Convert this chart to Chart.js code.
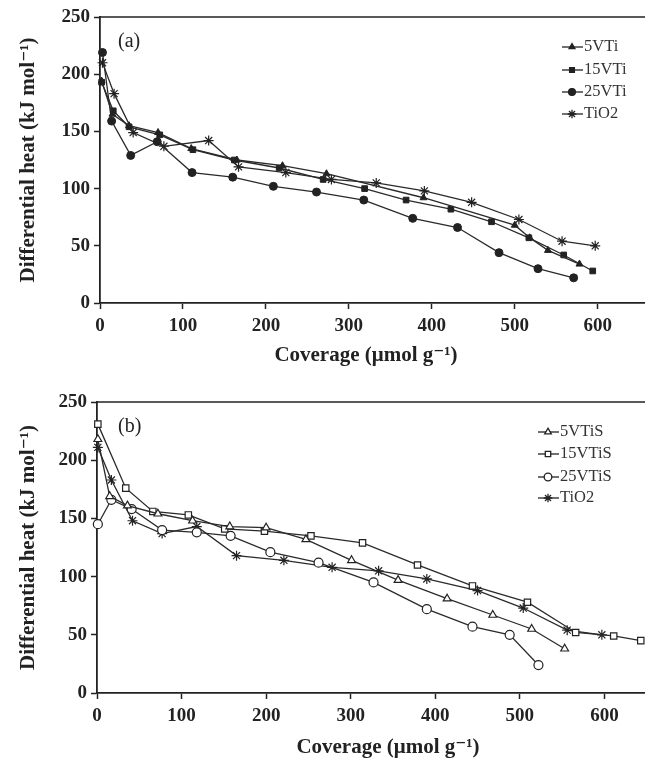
<!DOCTYPE html>
<html>
<head>
<meta charset="utf-8">
<script src="https://cdn.jsdelivr.net/npm/chart.js@4"></script>
<style>
  body { margin: 0; background: #fff; }
  #wrap { position: relative; width: 645px; height: 758px; overflow: hidden; }
  canvas { position: absolute; left: 0; }
</style>
</head>
<body>
<div id="wrap">
  <canvas id="chartA" width="645" height="370" style="top:0"></canvas>
  <canvas id="chartB" width="645" height="378" style="top:380px"></canvas>
</div>
<script>
// Panel (a) data
const a5VTiX  = [2, 15, 35, 70, 110, 165, 220, 273, 390, 500, 518, 540, 578];
const a5VTiY  = [194, 165, 155, 149, 135, 125, 120, 113, 92, 68, 57, 46, 34];
const a15VTiX = [2, 16, 35, 72, 112, 162, 216, 269, 319, 369, 423, 472, 517, 559, 594];
const a15VTiY = [193, 168, 154, 147, 134, 125, 118, 108, 100, 90, 82, 71, 57, 42, 28];
const a25VTiX = [3, 14, 37, 69, 111, 160, 209, 261, 318, 377, 431, 481, 528, 571];
const a25VTiY = [219, 159, 129, 141, 114, 110, 102, 97, 90, 74, 66, 44, 30, 22];
const aTiO2X  = [3, 17, 40, 77, 131, 167, 224, 279, 333, 391, 448, 505, 557, 597];
const aTiO2Y  = [210, 183, 149, 137, 142, 119, 114, 108, 105, 98, 88, 73, 54, 50];

// Panel (b) data
const b5VTiSX  = [1, 15, 36, 72, 113, 157, 200, 247, 301, 356, 414, 468, 514, 553];
const b5VTiSY  = [218, 169, 161, 154, 148, 143, 142, 132, 114, 97, 81, 67, 55, 38];
const b15VTiSX = [1, 34, 66, 108, 151, 198, 253, 314, 379, 444, 509, 566, 611, 643];
const b15VTiSY = [231, 176, 156, 153, 141, 139, 135, 129, 110, 92, 78, 52, 49, 45];
const b25VTiSX = [1, 17, 41, 77, 118, 158, 205, 262, 327, 390, 444, 488, 522];
const b25VTiSY = [145, 166, 158, 140, 138, 135, 121, 112, 95, 72, 57, 50, 24];
const bTiO2X   = [1, 17, 42, 77, 118, 165, 221, 278, 333, 390, 450, 504, 556, 597];
const bTiO2Y   = [211, 183, 148, 137, 143, 118, 114, 108, 105, 98, 88, 73, 54, 50];

const yTicks = [0, 50, 100, 150, 200, 250];
const xTicks = [0, 100, 200, 300, 400, 500, 600];

const SERIF = '"Liberation Serif", "DejaVu Serif", serif';
const INK = '#222';

function pts(xs, ys) {
  return xs.map((x, i) => ({ x: x, y: ys[i] }));
}

function series(label, xs, ys, style, filled, radius) {
  return {
    label: label,
    data: pts(xs, ys),
    borderColor: '#2a2a2a',
    borderWidth: 1.3,
    pointStyle: style,
    pointRadius: radius,
    pointBorderColor: INK,
    pointBorderWidth: filled ? 1 : 1.2,
    pointBackgroundColor: filled ? INK : '#fff',
    tension: 0,
    fill: false,
    clip: 8
  };
}

// frame line on top, panel label, x title and in-plot legend
const decor = {
  id: 'decor',
  afterDraw(chart, args, opts) {
    const ctx = chart.ctx;
    const area = chart.chartArea;
    ctx.save();
    ctx.strokeStyle = INK;
    ctx.lineWidth = 1.5;
    ctx.beginPath();
    ctx.moveTo(area.left, area.top);
    ctx.lineTo(chart.width, area.top);
    ctx.stroke();

    ctx.fillStyle = INK;
    ctx.font = '20px ' + SERIF;
    ctx.textBaseline = 'middle';
    ctx.textAlign = 'left';
    ctx.fillText(opts.tag, opts.tagX, opts.tagY);

    ctx.font = 'bold 21px ' + SERIF;
    ctx.textAlign = 'center';
    ctx.fillText('Coverage (μmol g⁻¹)', opts.titleX, opts.titleY);
    ctx.textAlign = 'left';

    ctx.font = '16.5px ' + SERIF;
    chart.data.datasets.forEach((ds, i) => {
      const y = opts.legY[i];
      const mx = opts.legX;
      ctx.strokeStyle = INK;
      ctx.lineWidth = 1.3;
      ctx.beginPath();
      ctx.moveTo(mx - 10, y);
      ctx.lineTo(mx + 11, y);
      ctx.stroke();
      ctx.fillStyle = ds.pointBackgroundColor;
      ctx.strokeStyle = INK;
      Chart.helpers.drawPoint(ctx, {
        pointStyle: ds.pointStyle,
        radius: ds.pointRadius * 0.85,
        borderWidth: ds.pointBorderWidth,
        rotation: 0
      }, mx, y);
      ctx.fillStyle = '#333';
      ctx.fillText(ds.label, mx + 12, y);
    });
    ctx.restore();
  }
};

function makeChart(id, datasets, xMax, leftW, topPad, xAxisH, tag, tagY, titleX, titleY, legX, legY) {
  return new Chart(document.getElementById(id), {
    type: 'line',
    data: { datasets: datasets },
    options: {
      responsive: false,
      animation: false,
      layout: { autoPadding: false, padding: { top: topPad, right: 0, left: 0, bottom: 0 } },
      plugins: {
        legend: { display: false },
        tooltip: { enabled: false },
        decor: { tag: tag, tagX: 118, tagY: tagY, titleX: titleX, titleY: titleY, legX: legX, legY: legY }
      },
      scales: {
        x: {
          type: 'linear',
          min: 0,
          max: xMax,
          afterBuildTicks: s => { s.ticks = xTicks.map(v => ({ value: v })); },
          afterFit: s => { s.height = xAxisH; s.paddingRight = 0; s.paddingLeft = 0; },
          grid: { drawOnChartArea: false, drawTicks: true, tickLength: 6, tickColor: INK, tickWidth: 1.5 },
          border: { color: INK, width: 1.8 },
          ticks: { color: INK, padding: 6, font: { family: SERIF, size: 19, weight: 'bold' } },
          title: { display: false }
        },
        y: {
          min: 0,
          max: 250,
          afterBuildTicks: s => { s.ticks = yTicks.map(v => ({ value: v })); },
          afterFit: s => { s.width = leftW; s.paddingTop = 0; s.paddingBottom = 0; },
          grid: { drawOnChartArea: false, drawTicks: true, tickLength: 6, tickColor: INK, tickWidth: 1.5 },
          border: { color: INK, width: 1.8 },
          ticks: { color: INK, padding: 4, font: { family: SERIF, size: 19, weight: 'bold' } },
          title: {
            display: true,
            text: 'Differential heat (kJ mol⁻¹)',
            color: INK,
            padding: { top: 16, bottom: 0 },
            font: { family: SERIF, size: 21, weight: 'bold' }
          }
        }
      }
    },
    plugins: [decor]
  });
}

makeChart('chartA', [
  series('5VTi', a5VTiX, a5VTiY, 'triangle', true, 4),
  series('15VTi', a15VTiX, a15VTiY, 'rect', true, 4),
  series('25VTi', a25VTiX, a25VTiY, 'circle', true, 4),
  series('TiO2', aTiO2X, aTiO2Y, 'star', false, 5)
], 657, 100, 17, 67, '(a)', 42, 366, 356, 572, [47, 70, 92, 114]);

makeChart('chartB', [
  series('5VTiS', b5VTiSX, b5VTiSY, 'triangle', false, 4.5),
  series('15VTiS', b15VTiSX, b15VTiSY, 'rect', false, 4.5),
  series('25VTiS', b25VTiSX, b25VTiSY, 'circle', false, 4.5),
  series('TiO2', bTiO2X, bTiO2Y, 'star', false, 5)
], 648, 97, 22, 65, '(b)', 47, 388, 368, 548, [52, 74, 97, 118]);
</script>
</body>
</html>
